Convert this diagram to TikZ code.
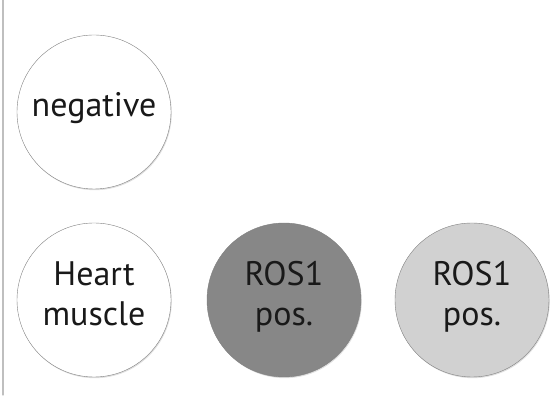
\documentclass[tikz,border=0pt]{standalone}
\usepackage{fontspec}
\setmainfont{PT Sans}
\usetikzlibrary{shadows}
\definecolor{darkdisc}{gray}{0.53}
\definecolor{lightdisc}{gray}{0.82}
\tikzset{
	disc/.style={circle, draw=black!50, line width=0.4pt, fill=white, minimum size=154pt, inner sep=0pt,
		align=center, text=black!90, font=\fontsize{34}{40}\selectfont,
		text height=60pt, text depth=8pt,
		drop shadow={opacity=0.25, shadow xshift=0.8pt, shadow yshift=-1.2pt}},
	onerow/.style={text height=20pt, text depth=10pt}
}
\begin{document}
\begin{tikzpicture}[x=1pt, y=1pt, line cap=round]
		\useasboundingbox (0,0) rectangle (560,398);
		\coordinate (T) at (3,398);
		\coordinate (U) at (3,3);
		\draw[black!25, line width=1.2pt] (T)--(U);
		\node[disc, onerow] (neg) at (94,286) {negative};
		\node[disc] (heart) at (94,98) {Heart\\muscle};
		\node[disc, fill=darkdisc] (rosA) at (284,98) {ROS1\\pos.};
		\node[disc, fill=lightdisc] (rosB) at (472,98) {ROS1\\pos.};
\end{tikzpicture}
\end{document}
